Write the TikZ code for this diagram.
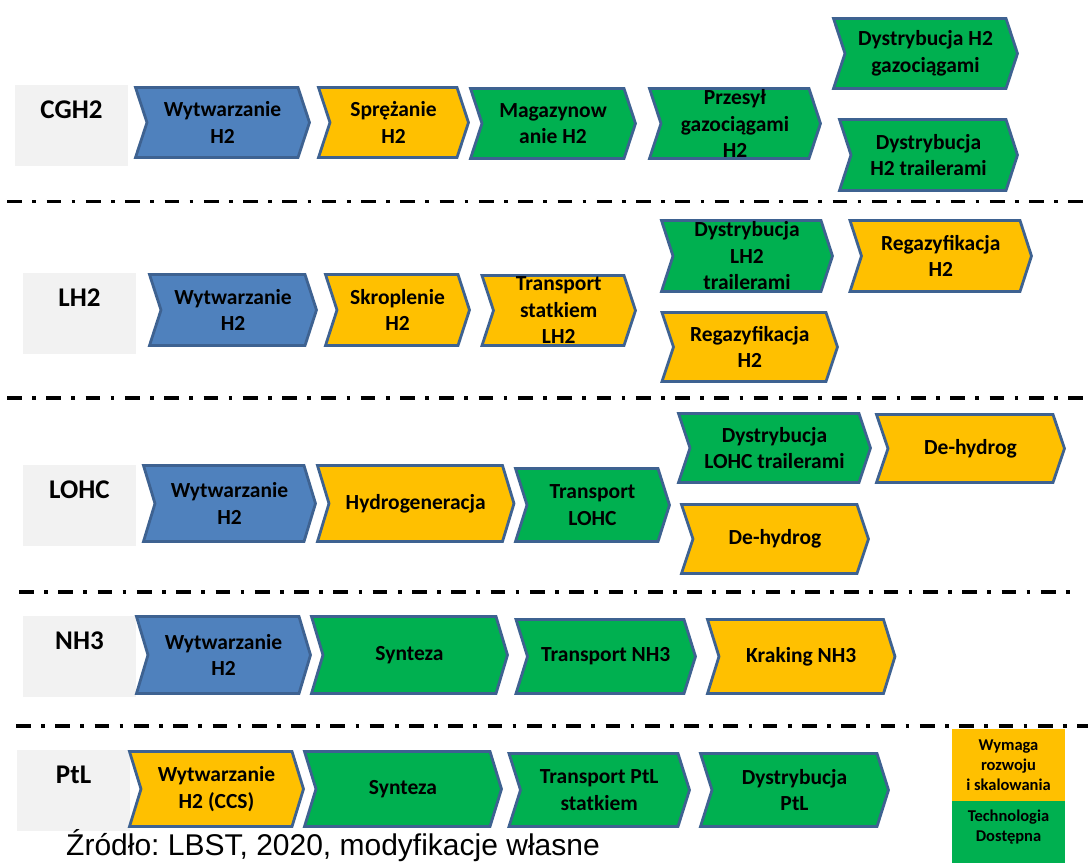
\documentclass[tikz,border=0pt]{standalone}
\usepackage{fontspec}
\setmainfont{Carlito}
\newfontfamily\notefont{Liberation Sans}
\frenchspacing

\definecolor{stepblue}{RGB}{79,129,189}
\definecolor{stepamber}{RGB}{255,192,0}
\definecolor{stepgreen}{RGB}{0,176,80}
\definecolor{edgeblue}{RGB}{62,98,145}
\definecolor{rowgray}{RGB}{242,242,242}

\tikzset{
rowbox/.style={fill=rowgray, minimum width=113pt, minimum height=81pt, inner sep=0pt}, % grey box behind each carrier name
rowtitle/.style={inner sep=0pt, font=\bfseries\fontsize{27}{32}\selectfont},
chevron/.style={draw=edgeblue, line width=2.8pt}, % outline of every process step
steptext/.style={align=center, inner sep=0pt, font=\bfseries\fontsize{21.5}{26.5}\selectfont},
separator/.style={line width=3.5pt, dash pattern=on 14.7pt off 10.4pt on 3.7pt off 10.5pt}, % dash-dot rule between rows
keybox/.style={minimum width=113pt, inner sep=0pt},
keytext/.style={align=center, inner sep=0pt, font=\bfseries\fontsize{16.5}{20}\selectfont},
}

% #1 name, #2 left edge, #3 tip, #4 top, #5 bottom, #6 fill, #7 text
\newcommand{\chevronstep}[7]{%
  \draw[chevron, fill=#6] (#2, #4) -- (#3-11.5, #4) -- (#3, {(#4+#5)/2}) -- (#3-11.5, #5)
    -- (#2, #5) -- (#2+11.5, {(#4+#5)/2}) -- cycle;
  \node[steptext] at ({(#2+#3)/2}, {(#4+#5)/2}) (#1) {#7};
}

\begin{document}
\begin{tikzpicture}[x=1pt, y=-1pt]
\useasboundingbox (0,0) rectangle (1088,863);

% carrier names
\node[rowbox] at (71.5, 125.5) (cghbox) {};
\node[rowbox] at (79.5, 313.5) (lhbox) {};
\node[rowbox] at (79.5, 505.5) (lohcbox) {};
\node[rowbox] at (79.5, 656.5) (nhbox) {};
\node[rowbox] at (73.5, 790.5) (ptlbox) {};
\node[rowtitle] at (71.5, 110) (cgh) {CGH2};
\node[rowtitle] at (79.5, 298) (lh) {LH2};
\node[rowtitle] at (79.5, 490) (lohc) {LOHC};
\node[rowtitle] at (79.5, 641) (nh) {NH3};
\node[rowtitle] at (73.5, 775) (ptl) {PtL};

% CGH2
\chevronstep{cgA}{135.5}{309.5}{87.5}{157.5}{stepblue}{Wytwarzanie\\H2}
\chevronstep{cgB}{318.5}{468.5}{87.5}{157.5}{stepamber}{Sprężanie\\H2}
\chevronstep{cgC}{470.5}{635.5}{88.5}{158.5}{stepgreen}{Magazynow\\anie H2}
\chevronstep{cgD}{649.5}{820.5}{88.5}{158.5}{stepgreen}{Przesył\\gazociągami\\H2}
\chevronstep{cgE}{833.5}{1017.5}{18.5}{88.5}{stepgreen}{Dystrybucja H2\\gazociągami}
\chevronstep{cgF}{839.5}{1017.5}{119.5}{190.5}{stepgreen}{Dystrybucja\\H2 trailerami}

% LH2
\chevronstep{lhA}{149.5}{316.5}{274.5}{345.5}{stepblue}{Wytwarzanie\\H2}
\chevronstep{lhB}{325.5}{469.5}{274.5}{345.5}{stepamber}{Skroplenie\\H2}
\chevronstep{lhC}{482}{635.5}{275.5}{345.5}{stepamber}{Transport\\statkiem\\LH2}
\chevronstep{lhD}{661.5}{832.5}{220.5}{291.5}{stepgreen}{Dystrybucja\\LH2\\trailerami}
\chevronstep{lhE}{850}{1031.5}{220.5}{291.5}{stepamber}{Regazyfikacja\\H2}
\chevronstep{lhF}{662}{837.5}{312.5}{381.5}{stepamber}{Regazyfikacja\\H2}

% LOHC
\chevronstep{loA}{143.5}{315.5}{465.5}{541.5}{stepblue}{Wytwarzanie\\H2}
\chevronstep{loB}{317.5}{514}{465.5}{541.5}{stepamber}{Hydrogeneracja}
\chevronstep{loC}{515.5}{669.5}{468.5}{541.5}{stepgreen}{Transport\\LOHC}
\chevronstep{loD}{678.5}{870.5}{413.5}{482.5}{stepgreen}{Dystrybucja\\LOHC trailerami}
\chevronstep{loE}{876.5}{1064.5}{414.5}{482.5}{stepamber}{De-hydrog}
\chevronstep{loF}{681.5}{868.5}{504.5}{573.5}{stepamber}{De-hydrog}

% NH3
\chevronstep{nhA}{136.5}{310.5}{616.5}{693.5}{stepblue}{Wytwarzanie\\H2}
\chevronstep{nhB}{311.5}{507.5}{616.5}{693.5}{stepgreen}{Synteza}
\chevronstep{nhC}{516}{695.5}{619.5}{693.5}{stepgreen}{Transport NH3}
\chevronstep{nhD}{707.5}{895}{619.5}{693.5}{stepamber}{Kraking NH3}

% PtL
\chevronstep{ptA}{129.5}{303.5}{751.5}{826.5}{stepamber}{Wytwarzanie\\H2 (CCS)}
\chevronstep{ptB}{304.5}{501.5}{751.5}{826.5}{stepgreen}{Synteza}
\chevronstep{ptC}{509}{689.5}{753.5}{826.5}{stepgreen}{Transport PtL\\statkiem}
\chevronstep{ptD}{700.5}{888.5}{753.5}{826.5}{stepgreen}{Dystrybucja\\PtL}

% rules between rows
\draw[separator] (7.3, 201.7) -- (1088, 201.7);
\draw[separator] (7, 398) -- (1088, 398);
\draw[separator] (19, 592) -- (1078, 592);
\draw[separator] (16, 726) -- (1088, 726);

% key
\node[keybox, fill=stepamber, minimum height=72pt] at (1008.5, 765) (keydev) {};
\node[keybox, fill=stepgreen, minimum height=62pt] at (1008.5, 832) (keyready) {};
\node[keytext] at (1008.5, 765) (keydevtext) {Wymaga\\rozwoju\\i skalowania};
\node[keytext] at (1008.5, 827) (keyreadytext) {Technologia\\Dostępna};

\node[anchor=base west, inner sep=0pt, font=\notefont\fontsize{30}{35}\selectfont] at (66, 855.5) (source) {Źródło: LBST, 2020, modyfikacje własne};

\end{tikzpicture}
\end{document}
